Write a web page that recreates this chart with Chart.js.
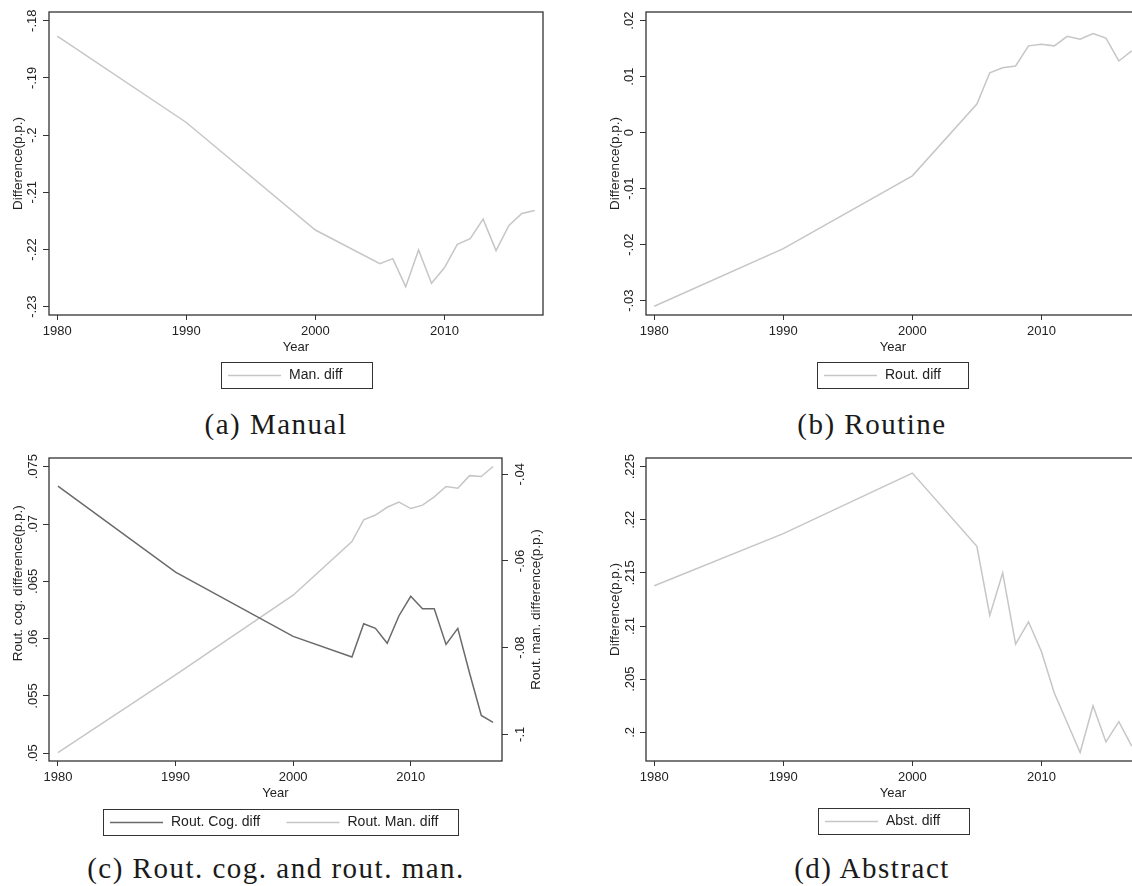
<!DOCTYPE html>
<html>
<head>
<meta charset="utf-8">
<script src="https://cdn.jsdelivr.net/npm/chart.js@4.4.1/dist/chart.umd.min.js"></script>
<style>
  html, body { margin: 0; padding: 0; background: #fff; }
  #page { position: relative; width: 1132px; height: 886px; overflow: hidden; background: #fff; }
  canvas { position: absolute; }
  .cap {
    position: absolute; transform: translate(-50%, -50%); white-space: nowrap;
    font-family: "Liberation Serif", "DejaVu Serif", serif; font-size: 29px; letter-spacing: 1.5px; color: #1a1a1a;
  }
</style>
</head>
<body>
<div id="page">
  <canvas id="chartA" width="566" height="400" style="left:0;top:0"></canvas>
  <canvas id="chartB" width="566" height="400" style="left:597px;top:0"></canvas>
  <canvas id="chartC" width="566" height="400" style="left:0;top:446px"></canvas>
  <canvas id="chartD" width="566" height="400" style="left:597px;top:446px"></canvas>
  <div class="cap" style="left:276px;top:424px">(a) Manual</div>
  <div class="cap" style="left:872px;top:424px">(b) Routine</div>
  <div class="cap" style="left:276px;top:868px">(c) Rout. cog. and rout. man.</div>
  <div class="cap" style="left:872px;top:868px">(d) Abstract</div>
</div>
<script>
// data
const years = [1980, 1990, 2000, 2005, 2006, 2007, 2008, 2009, 2010, 2011, 2012, 2013, 2014, 2015, 2016, 2017];
const yearTicks = [1980, 1990, 2000, 2010];
const yearTickLabels = ["1980", "1990", "2000", "2010"];

const manDiff = [-0.1827, -0.1978, -0.2166, -0.2225, -0.2216, -0.2265, -0.2201, -0.2259,
                 -0.2232, -0.2191, -0.2181, -0.2147, -0.2202, -0.2158, -0.2137, -0.2132];
const manTicks = [-0.23, -0.22, -0.21, -0.20, -0.19, -0.18];
const manTickLabels = ["-.23", "-.22", "-.21", "-.2", "-.19", "-.18"];

const routDiff = [-0.0310, -0.0207, -0.0077, 0.0051, 0.0107, 0.0116, 0.0119, 0.0155,
                  0.0158, 0.0155, 0.0172, 0.0167, 0.0177, 0.0169, 0.0128, 0.0146];
const routTicks = [-0.03, -0.02, -0.01, 0, 0.01, 0.02];
const routTickLabels = ["-.03", "-.02", "-.01", "0", ".01", ".02"];

const routCogDiff = [0.0733, 0.0658, 0.0602, 0.0584, 0.0613, 0.0609, 0.0596, 0.0620,
                     0.0637, 0.0626, 0.0626, 0.0595, 0.0609, 0.0570, 0.0533, 0.0527];
const routCogTicks = [0.05, 0.055, 0.06, 0.065, 0.07, 0.075];
const routCogTickLabels = [".05", ".055", ".06", ".065", ".07", ".075"];

const routManDiff = [-0.1042, -0.0863, -0.0679, -0.0555, -0.0505, -0.0494, -0.0476, -0.0464,
                     -0.0479, -0.0471, -0.0452, -0.0428, -0.0432, -0.0403, -0.0405, -0.0382];
const routManTicks = [-0.1, -0.08, -0.06, -0.04];
const routManTickLabels = ["-.1", "-.08", "-.06", "-.04"];

const abstDiff = [0.2138, 0.2187, 0.2244, 0.2175, 0.2110, 0.2150, 0.2083, 0.2104,
                  0.2076, 0.2037, 0.2009, 0.1981, 0.2025, 0.1991, 0.2010, 0.1987];
const abstTicks = [0.2, 0.205, 0.21, 0.215, 0.22, 0.225];
const abstTickLabels = [".2", ".205", ".21", ".215", ".22", ".225"];

const LIGHT = "#c6c6c6";
const DARK = "#6a6a6a";
const AXIS = "#333333";
const TEXT = "#222222";
const SANS = '"Liberation Sans", Arial, sans-serif';

Chart.defaults.font.family = SANS;
Chart.defaults.color = TEXT;

const pts = vals => years.map((y, i) => ({ x: y, y: vals[i] }));

// box around the plot region, Stata style
const frame = {
  id: "frame",
  afterDatasetsDraw(chart) {
    const { ctx, chartArea: a } = chart;
    ctx.save();
    ctx.strokeStyle = AXIS;
    ctx.lineWidth = 1.3;
    ctx.strokeRect(a.left, a.top, a.right - a.left, a.bottom - a.top);
    ctx.restore();
  }
};

// bordered legend under the axis
const boxLegend = {
  id: "boxLegend",
  afterDraw(chart, args, opts) {
    if (!opts || opts.width == null) return;
    const { ctx } = chart;
    ctx.save();
    ctx.strokeStyle = AXIS;
    ctx.lineWidth = 1;
    ctx.strokeRect(opts.left + 0.5, opts.top + 0.5, opts.width, opts.height);
    ctx.font = `14px ${SANS}`;
    ctx.textBaseline = "middle";
    chart.data.datasets.forEach((ds, i) => {
      const x = opts.left + 7 + i * (opts.colStep || 0);
      const y = opts.top + opts.height / 2 + 0.5;
      ctx.strokeStyle = ds.borderColor;
      ctx.lineWidth = ds.borderWidth;
      ctx.beginPath();
      ctx.moveTo(x, y);
      ctx.lineTo(x + 53, y);
      ctx.stroke();
      ctx.fillStyle = TEXT;
      ctx.fillText(ds.label, x + 61, y);
    });
    ctx.restore();
  }
};

// right-hand axis title reading bottom to top, as in the original
const sideTitle = {
  id: "sideTitle",
  afterDraw(chart, args, opts) {
    if (!opts || !opts.text) return;
    const { ctx, chartArea: a } = chart;
    ctx.save();
    ctx.translate(opts.x, (a.top + a.bottom) / 2);
    ctx.rotate(-Math.PI / 2);
    ctx.font = `13.5px ${SANS}`;
    ctx.fillStyle = TEXT;
    ctx.textAlign = "center";
    ctx.textBaseline = "middle";
    ctx.fillText(opts.text, 0, 0);
    ctx.restore();
  }
};

function xAxis(min, max) {
  return {
    type: "linear", position: "bottom", min, max,
    afterBuildTicks: s => { s.ticks = yearTicks.map(v => ({ value: v })); },
    afterFit: s => { s.height = 40; },
    ticks: { autoSkip: false, maxRotation: 0, padding: 4, color: TEXT, font: { size: 13 },
             callback: (v, i) => yearTickLabels[i] },
    grid: { drawOnChartArea: false, tickLength: 5, tickColor: AXIS },
    border: { display: false },
    title: { display: true, text: "Year", color: TEXT, font: { size: 13 }, padding: { top: 0, bottom: 0 } }
  };
}

function yAxis(o) {
  return {
    type: "linear", position: o.position || "left", min: o.min, max: o.max,
    afterBuildTicks: s => { s.ticks = o.ticks.map(v => ({ value: v })); },
    afterFit: s => { s.width = o.width || 49; },
    ticks: { autoSkip: false, minRotation: 90, maxRotation: 90, crossAlign: "center",
             padding: o.pad, color: TEXT, font: { size: 13 },
             callback: (v, i) => o.labels[i] },
    grid: { drawOnChartArea: false, tickLength: 6, tickColor: AXIS },
    border: { display: false },
    title: { display: !!o.title, text: o.title, color: TEXT, font: { size: 13.5 },
             padding: { top: 10, bottom: 0 } }
  };
}

function line(label, vals, color, axis) {
  return { label, data: pts(vals), borderColor: color, backgroundColor: color,
           borderWidth: 1.5, pointRadius: 0, tension: 0, yAxisID: axis || "y" };
}

function panel(id, datasets, scales, legend, extra) {
  return new Chart(document.getElementById(id), {
    type: "line",
    data: { datasets },
    options: {
      responsive: false,
      animation: false,
      layout: { padding: { left: 0, top: 12, right: extra && extra.padRight != null ? extra.padRight : 23, bottom: 45 } },
      plugins: {
        legend: { display: false },
        tooltip: { enabled: false },
        boxLegend: legend,
        sideTitle: (extra && extra.side) || {}
      },
      scales
    },
    plugins: [frame, boxLegend, sideTitle]
  });
}

panel("chartA",
  [line("Man. diff", manDiff, LIGHT)],
  { x: xAxis(1979.36, 2017.64),
    y: yAxis({ min: -0.23146, max: -0.17848, ticks: manTicks, labels: manTickLabels, pad: -1, title: "Difference(p.p.)" }) },
  { left: 221, top: 362, width: 151, height: 26 });

panel("chartB",
  [line("Rout. diff", routDiff, LIGHT)],
  { x: xAxis(1979.36, 2017.64),
    y: yAxis({ min: -0.03256, max: 0.021548, ticks: routTicks, labels: routTickLabels, pad: -1, title: "Difference(p.p.)" }) },
  { left: 220, top: 362, width: 151, height: 26 });

panel("chartC",
  [line("Rout. Cog. diff", routCogDiff, DARK, "y"), line("Rout. Man. diff", routManDiff, LIGHT, "y2")],
  { x: xAxis(1979.24, 2017.76),
    y: yAxis({ min: 0.049331, max: 0.075756, ticks: routCogTicks, labels: routCogTickLabels, pad: -2.6,
               title: " ".repeat(14) + "Rout. cog. difference(p.p.)" }),
    y2: yAxis({ position: "right", width: 50, min: -0.106154, max: -0.036231, ticks: routManTicks,
                labels: routManTickLabels, pad: 1 }) },
  { left: 103, top: 363, width: 355, height: 26, colStep: 176.5 },
  { padRight: 14, side: { text: "Rout. man. difference(p.p.)", x: 536 } });

panel("chartD",
  [line("Abst. diff", abstDiff, LIGHT)],
  { x: xAxis(1979.36, 2017.64),
    y: yAxis({ min: 0.197302, max: 0.225816, ticks: abstTicks, labels: abstTickLabels, pad: -2.6, title: "Difference(p.p.)" }) },
  { left: 221, top: 362, width: 151, height: 26 });
</script>
</body>
</html>
